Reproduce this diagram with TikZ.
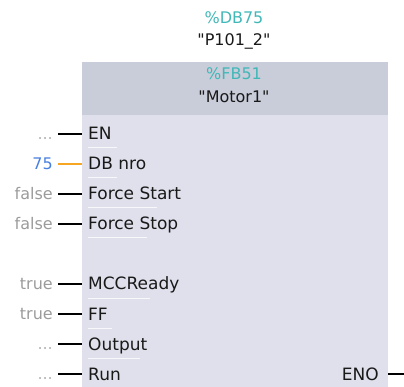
\documentclass[tikz,border=0pt]{standalone}
\usepackage{fontspec}
\setmainfont{DejaVu Sans}
\setsansfont{DejaVu Sans}
\usetikzlibrary{calc, positioning}

\definecolor{bodygray}{RGB}{223,224,235}
\definecolor{headgray}{RGB}{201,204,217}
\definecolor{siemensteal}{RGB}{64,184,184}
\definecolor{valgray}{RGB}{155,155,155}
\definecolor{dotgray}{RGB}{180,180,180}
\definecolor{valblue}{RGB}{74,128,224}
\definecolor{wireorange}{RGB}{245,166,35}

\newcommand{\pinunset}{...}

\tikzset{
  pinname/.style={anchor=base west, inner sep=0pt, text=black!90, font=\sffamily\fontsize{17}{20}\selectfont},
  pinvalue/.style={anchor=base east, inner sep=0pt},
  wire/.style={line width=2pt},
  pinline/.style={white, line width=1pt, opacity=0.8},
}

\begin{document}
\begin{tikzpicture}[x=1pt, y=-1pt, font=\sffamily\fontsize{16}{19}\selectfont]
		\useasboundingbox (0,0) rectangle (404,387);
		
		% --- INSTANCE DB ---
		\node[text=siemensteal] (DBnum) at (234,18) {\%DB75};
		\node[text=black!90] (DBname) at (234,41) {\textquotedbl P101\_2\textquotedbl};
		
		% --- FUNCTION BLOCK ---
		\node[fill=bodygray, minimum width=306pt, minimum height=330pt, anchor=north west, inner sep=0pt] (FB) at (82,62) {};
		\node[fill=headgray, minimum width=306pt, minimum height=53pt, anchor=north west, inner sep=0pt] (Header) at (82,62) {};
		\node[text=siemensteal] (FBnum) at (234,74) {\%FB51};
		\node[text=black!90] (FBname) at (234,97) {\textquotedbl Motor1\textquotedbl};
		
		% --- INPUT PINS ---
		\foreach \y/\val/\vcol/\wcol/\pin/\ul in {
			134/\pinunset/dotgray/black/EN/29,
			164/75/valblue/wireorange/DB nro/29,
			194/false/valgray/black/Force Start/69,
			224/false/valgray/black/Force Stop/59,
			284/true/valgray/black/MCCReady/62,
			314/true/valgray/black/FF/24,
			344/\pinunset/dotgray/black/Output/52,
			374/\pinunset/dotgray/black/Run/0}{
			\node[pinname] (pin-\y) at (88,\y+6) {\pin};
			\coordinate (wire-\y) at (58,\y);
			\draw[wire, \wcol] (wire-\y) -- (FB.west |- wire-\y);
			\node[pinvalue, text=\vcol] (val-\y) at (53,\y+5.8) {\val};
			\draw[pinline] (88,\y+14) -- ++(\ul,0);
		}
		
		% --- OUTPUT PIN ---
		\node[pinname, anchor=base east] (ENO) at (379,380) {ENO};
		\coordinate (wire-eno) at (404,374);
		\draw[wire] (FB.east |- wire-eno) -- (wire-eno);
		
	\end{tikzpicture}
\end{document}
